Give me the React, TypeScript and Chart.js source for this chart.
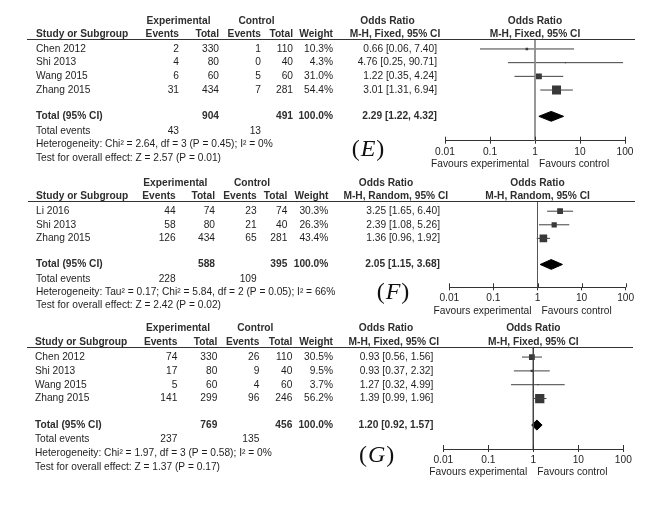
import React, { useEffect, useRef } from "react";
import { Chart, registerables } from "chart.js";

Chart.register(...registerables);

const FONT = "'Liberation Sans', Arial, sans-serif";
const SERIF = "'Liberation Serif', 'Times New Roman', serif";
const TEXT = "#1e1e1e";
const HEAD = "#2e2e2e";

// ---------- Panel E ----------
const studiesE = ["Chen 2012", "Shi 2013", "Wang 2015", "Zhang 2015"];
const expEventsE = [2, 4, 6, 31];
const expTotalE = [330, 80, 60, 434];
const ctlEventsE = [1, 0, 5, 7];
const ctlTotalE = [110, 40, 60, 281];
const weightE = [10.3, 4.3, 31.0, 54.4];
const orE = [0.66, 4.76, 1.22, 3.01];
const loE = [0.06, 0.25, 0.35, 1.31];
const hiE = [7.4, 90.71, 4.24, 6.94];
const totalsE = [904, 491];
const eventsE = [43, 13];
const pooledE = [2.29, 1.22, 4.32];
const hetE = "Heterogeneity: Chi² = 2.64, df = 3 (P = 0.45); I² = 0%";
const testE = "Test for overall effect: Z = 2.57 (P = 0.01)";

// ---------- Panel F ----------
const studiesF = ["Li 2016", "Shi 2013", "Zhang 2015"];
const expEventsF = [44, 58, 126];
const expTotalF = [74, 80, 434];
const ctlEventsF = [23, 21, 65];
const ctlTotalF = [74, 40, 281];
const weightF = [30.3, 26.3, 43.4];
const orF = [3.25, 2.39, 1.36];
const loF = [1.65, 1.08, 0.96];
const hiF = [6.4, 5.26, 1.92];
const totalsF = [588, 395];
const eventsF = [228, 109];
const pooledF = [2.05, 1.15, 3.68];
const hetF = "Heterogeneity: Tau² = 0.17; Chi² = 5.84, df = 2 (P = 0.05); I² = 66%";
const testF = "Test for overall effect: Z = 2.42 (P = 0.02)";

// ---------- Panel G ----------
const studiesG = ["Chen 2012", "Shi 2013", "Wang 2015", "Zhang 2015"];
const expEventsG = [74, 17, 5, 141];
const expTotalG = [330, 80, 60, 299];
const ctlEventsG = [26, 9, 4, 96];
const ctlTotalG = [110, 40, 60, 246];
const weightG = [30.5, 9.5, 3.7, 56.2];
const orG = [0.93, 0.93, 1.27, 1.39];
const loG = [0.56, 0.37, 0.32, 0.99];
const hiG = [1.56, 2.32, 4.99, 1.96];
const totalsG = [769, 456];
const eventsG = [237, 135];
const pooledG = [1.2, 0.92, 1.57];
const hetG = "Heterogeneity: Chi² = 1.97, df = 3 (P = 0.58); I² = 0%";
const testG = "Test for overall effect: Z = 1.37 (P = 0.17)";

const tickValues = [0.01, 0.1, 1, 10, 100];
const colHeaders = ["Events", "Total", "Events", "Total", "Weight"];

const AXIS_H = 24;
const W = 650;
const H = 510;

type Layout = {
  top: number; bottom: number; left: number; right: number;
  yMin: number; yMax: number;
  cols: number[]; orRight: number;
  expCenter: number; ctlCenter: number; orHdrCenter: number; mhCenter: number;
  studyX: number; ruleX0: number; ruleX1: number;
  labelX: number; labelRow: number; refColor: string;
};

type Panel = {
  key: string; method: string;
  studies: string[]; expEvents: number[]; expTotal: number[];
  ctlEvents: number[]; ctlTotal: number[]; weight: number[];
  or: number[]; lo: number[]; hi: number[];
  totals: number[]; events: number[]; pooled: number[];
  het: string; test: string; L: Layout;
};

const panels: Panel[] = [
  {
    key: "E", method: "M-H, Fixed, 95% CI",
    studies: studiesE, expEvents: expEventsE, expTotal: expTotalE,
    ctlEvents: ctlEventsE, ctlTotal: ctlTotalE, weight: weightE,
    or: orE, lo: loE, hi: hiE, totals: totalsE, events: eventsE, pooled: pooledE,
    het: hetE, test: testE,
    L: {
      top: 38.7, bottom: 140.7, left: 445, right: 625, yMin: 0.25, yMax: 7.7,
      cols: [179, 219, 261, 293, 333], orRight: 437,
      expCenter: 178.5, ctlCenter: 256.5, orHdrCenter: 387.5, mhCenter: 395,
      studyX: 36, ruleX0: 27, ruleX1: 635, labelX: 368, labelRow: 8.39, refColor: "#8a8a8a",
    },
  },
  {
    key: "F", method: "M-H, Random, 95% CI",
    studies: studiesF, expEvents: expEventsF, expTotal: expTotalF,
    ctlEvents: ctlEventsF, ctlTotal: ctlTotalF, weight: weightF,
    or: orF, lo: loF, hi: hiF, totals: totalsF, events: eventsF, pooled: pooledF,
    het: hetF, test: testF,
    L: {
      top: 201, bottom: 287.3, left: 449.3, right: 625.7, yMin: 0.25, yMax: 6.6,
      cols: [175.7, 215, 256.7, 287.3, 328.3], orRight: 440,
      expCenter: 175.3, ctlCenter: 252, orHdrCenter: 386, mhCenter: 395.8,
      studyX: 36, ruleX0: 28, ruleX1: 635, labelX: 393, labelRow: 7.0, refColor: "#555555",
    },
  },
  {
    key: "G", method: "M-H, Fixed, 95% CI",
    studies: studiesG, expEvents: expEventsG, expTotal: expTotalG,
    ctlEvents: ctlEventsG, ctlTotal: ctlTotalG, weight: weightG,
    or: orG, lo: loG, hi: hiG, totals: totalsG, events: eventsG, pooled: pooledG,
    het: hetG, test: testG,
    L: {
      top: 346.7, bottom: 449, left: 443.3, right: 623.3, yMin: 0.25, yMax: 7.65,
      cols: [177.3, 217.3, 259.3, 292.3, 333], orRight: 433.3,
      expCenter: 178, ctlCenter: 255.3, orHdrCenter: 386, mhCenter: 393.8,
      studyX: 35, ruleX0: 27, ruleX1: 633, labelX: 376.7, labelRow: 8.14, refColor: "#444444",
    },
  },
];

const fmtCI = (a: number, b: number, c: number) =>
  `${a.toFixed(2)} [${b.toFixed(2)}, ${c.toFixed(2)}]`;

function makeTablePlugin(p: Panel) {
  return {
    id: "forestTable" + p.key,
    afterDraw(chart: any) {
      const ctx: CanvasRenderingContext2D = chart.ctx;
      const xs = chart.scales.x;
      const ys = chart.scales.y;
      const L = p.L;
      const n = p.studies.length;
      const Y = (r: number) => ys.getPixelForValue(r);
      const x1 = xs.getPixelForValue(1);
      const area = chart.chartArea;

      ctx.save();
      ctx.textBaseline = "middle";
      const text = (s: string, px: number, row: number, align: CanvasTextAlign, bold = false, color = TEXT) => {
        ctx.font = `${bold ? "bold " : ""}10.2px ${FONT}`;
        ctx.fillStyle = color;
        ctx.textAlign = align;
        ctx.fillText(s, px, Y(row));
      };

      // headers
      const hr1 = -1.06;
      const hr2 = -0.07;
      text("Experimental", L.expCenter, hr1, "center", true, HEAD);
      text("Control", L.ctlCenter, hr1, "center", true, HEAD);
      text("Odds Ratio", L.orHdrCenter, hr1, "center", true, HEAD);
      text("Odds Ratio", x1, hr1, "center", true, HEAD);
      text("Study or Subgroup", L.studyX, hr2, "left", true, HEAD);
      colHeaders.forEach((h, i) => text(h, L.cols[i], hr2, "right", true, HEAD));
      text(p.method, L.mhCenter, hr2, "center", true, HEAD);
      text(p.method, x1, hr2, "center", true, HEAD);

      // rule
      ctx.strokeStyle = "#333";
      ctx.lineWidth = 1.2;
      ctx.beginPath();
      const ry = Math.round(area.top) + 0.5;
      ctx.moveTo(L.ruleX0, ry);
      ctx.lineTo(L.ruleX1, ry);
      ctx.stroke();

      // study rows
      p.studies.forEach((s, i) => {
        const r = i + 1;
        text(s, L.studyX, r, "left");
        text(String(p.expEvents[i]), L.cols[0], r, "right");
        text(String(p.expTotal[i]), L.cols[1], r, "right");
        text(String(p.ctlEvents[i]), L.cols[2], r, "right");
        text(String(p.ctlTotal[i]), L.cols[3], r, "right");
        text(`${p.weight[i].toFixed(1)}%`, L.cols[4], r, "right");
        text(fmtCI(p.or[i], p.lo[i], p.hi[i]), L.orRight, r, "right");
      });

      // total row
      const tr = n + 1.92;
      text("Total (95% CI)", L.studyX, tr, "left", true, HEAD);
      text(String(p.totals[0]), L.cols[1], tr, "right", true, HEAD);
      text(String(p.totals[1]), L.cols[3], tr, "right", true, HEAD);
      text("100.0%", L.cols[4], tr, "right", true, HEAD);
      text(fmtCI(p.pooled[0], p.pooled[1], p.pooled[2]), L.orRight, tr, "right", true, HEAD);

      // total events, heterogeneity, test
      const er = n + 2.97;
      text("Total events", L.studyX, er, "left");
      text(String(p.events[0]), L.cols[0], er, "right");
      text(String(p.events[1]), L.cols[2], er, "right");
      text(p.het, L.studyX, n + 3.98, "left");
      text(p.test, L.studyX, n + 4.95, "left");

      // upward parts of tick marks
      ctx.strokeStyle = "#333";
      ctx.lineWidth = 1;
      tickValues.forEach((v) => {
        const px = Math.round(xs.getPixelForValue(v)) + 0.5;
        ctx.beginPath();
        ctx.moveTo(px, area.bottom - 4);
        ctx.lineTo(px, area.bottom);
        ctx.stroke();
      });

      // favours
      ctx.font = `10.2px ${FONT}`;
      ctx.fillStyle = TEXT;
      ctx.textAlign = "right";
      ctx.fillText("Favours experimental", x1 - 6, area.bottom + 23.5);
      ctx.textAlign = "left";
      ctx.fillText("Favours control", x1 + 4, area.bottom + 23.5);

      // panel label
      const ly = Y(L.labelRow);
      const pfont = `24px ${SERIF}`;
      const lfont = `italic 24px ${SERIF}`;
      ctx.font = pfont;
      const wp = ctx.measureText("(").width;
      const wc = ctx.measureText(")").width;
      ctx.font = lfont;
      const wl = ctx.measureText(p.key).width;
      const total = wp + wl + wc + 2;
      let cx = L.labelX - total / 2;
      ctx.fillStyle = "#111";
      ctx.textAlign = "left";
      ctx.font = pfont;
      ctx.fillText("(", cx, ly);
      cx += wp + 1;
      ctx.font = lfont;
      ctx.fillText(p.key, cx, ly);
      cx += wl + 1;
      ctx.font = pfont;
      ctx.fillText(")", cx, ly);

      ctx.restore();
    },
  };
}

function buildConfig(p: Panel): any {
  const L = p.L;
  const n = p.studies.length;
  const tr = n + 1.92;
  const dh = 0.36;
  const datasets: any[] = [];

  // reference line at OR = 1
  datasets.push({
    data: [{ x: 1, y: L.yMin }, { x: 1, y: L.yMax }],
    showLine: true, borderColor: L.refColor, borderWidth: 1, pointRadius: 0,
  });

  // CI lines
  p.studies.forEach((_, i) => {
    datasets.push({
      data: [{ x: p.lo[i], y: i + 1 }, { x: p.hi[i], y: i + 1 }],
      showLine: true, borderColor: "#404040", borderWidth: 1, pointRadius: 0,
    });
  });

  // squares (side grows with weight)
  datasets.push({
    data: p.or.map((v, i) => ({ x: v, y: i + 1 })),
    showLine: false,
    pointStyle: "rect",
    pointRadius: p.weight.map((w) => (0.45 * Math.pow(w, 0.75)) / Math.SQRT2),
    pointBackgroundColor: "#383838",
    pointBorderWidth: 0,
    pointBorderColor: "#383838",
  });

  // pooled diamond
  datasets.push({
    data: [
      { x: p.pooled[1], y: tr },
      { x: p.pooled[0], y: tr - dh },
      { x: p.pooled[2], y: tr },
      { x: p.pooled[0], y: tr + dh },
      { x: p.pooled[1], y: tr },
    ],
    showLine: true, fill: "shape", tension: 0,
    borderColor: "#000", backgroundColor: "#000", borderWidth: 1, pointRadius: 0,
  });

  return {
    type: "scatter",
    data: { datasets },
    options: {
      responsive: false,
      animation: false,
      devicePixelRatio: 1,
      layout: {
        padding: {
          left: L.left,
          right: W - L.right,
          top: L.top,
          bottom: H - L.bottom - AXIS_H,
        },
      },
      plugins: { legend: { display: false }, tooltip: { enabled: false } },
      scales: {
        x: {
          type: "logarithmic",
          position: "bottom",
          min: 0.01,
          max: 100,
          afterBuildTicks: (scale: any) => {
            scale.ticks = tickValues.map((v) => ({ value: v }));
          },
          afterFit: (scale: any) => {
            scale.height = AXIS_H;
          },
          grid: { display: true, drawOnChartArea: false, drawTicks: true, tickLength: 3, color: "#333" },
          border: { display: true, color: "#333", width: 1 },
          ticks: {
            autoSkip: false,
            maxRotation: 0,
            padding: 2,
            color: TEXT,
            font: { size: 10.2, family: FONT },
            callback: (v: any) => String(v),
          },
        },
        y: {
          type: "linear",
          display: false,
          reverse: true,
          min: L.yMin,
          max: L.yMax,
        },
      },
    },
    plugins: [makeTablePlugin(p)],
  };
}

function ForestPanel({ panel }: { panel: Panel }) {
  const ref = useRef<HTMLCanvasElement>(null);
  useEffect(() => {
    const chart = new Chart(ref.current as HTMLCanvasElement, buildConfig(panel));
    return () => chart.destroy();
  }, [panel]);
  return (
    <canvas
      ref={ref}
      width={W}
      height={H}
      style={{ position: "absolute", left: 0, top: 0, width: W, height: H }}
    />
  );
}

export default function App() {
  return (
    <div style={{ position: "absolute", left: 0, top: 0, width: W, height: H, background: "#fff" }}>
      {panels.map((p) => (
        <ForestPanel key={p.key} panel={p} />
      ))}
    </div>
  );
}
